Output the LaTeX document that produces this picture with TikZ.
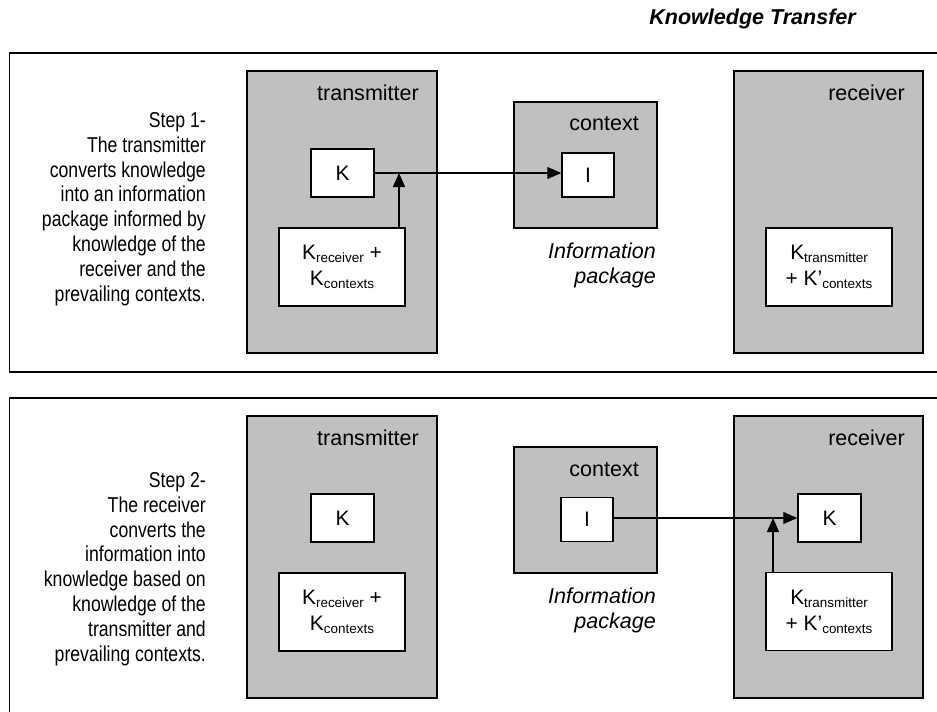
\documentclass[tikz,border=0pt]{standalone}
\usepackage{fontspec}
\setmainfont{Liberation Sans}
\newfontfamily\narrowfont[FakeStretch=0.82]{Liberation Sans}
\usetikzlibrary{arrows.meta}
\definecolor{boxgray}{RGB}{192,192,192}
\newcommand{\ksub}[1]{\raisebox{-3bp}{\fontsize{13.5}{13.5}\selectfont #1}}
\begin{document}
\begin{tikzpicture}[x=1bp,y=-1bp,
  frame/.style={draw=black, line width=1.4bp},
  agent/.style={draw=black, fill=boxgray, line width=1.5bp, rectangle, inner sep=0},
  inbox/.style={draw=black, fill=white, line width=1.5bp, rectangle, inner sep=0, align=center,
    font=\fontsize{21}{26}\selectfont},
  lbl/.style={anchor=base east, inner sep=0, font=\fontsize{21.6}{25}\selectfont},
  pkg/.style={anchor=north east, inner sep=0, align=right, font=\fontsize{21.6}{25}\selectfont\itshape},
  steptext/.style={anchor=north east, inner sep=0, align=right, font=\fontsize{21.6}{25}\selectfont\narrowfont},
  arr/.style={line width=1.3bp, -{Triangle[length=14bp,width=12bp]}}
]
\clip (0,0) rectangle (937,712);
\fill[white] (0,0) rectangle (937,712);

% title
\node[anchor=base east, inner sep=0, font=\fontsize{21.6}{25}\selectfont\bfseries\itshape] (title) at (856,25) {Knowledge Transfer};

% frames
\draw[frame] (950,53) -- (9.5,53) -- (9.5,372) -- (950,372);
\draw[frame] (950,398) -- (9.5,398) -- (9.5,730);

% ===== Step 1 =====
\node[steptext] (step1) at (206,112) {Step 1-\\The transmitter\\converts knowledge\\into an information\\package informed by\\knowledge of the\\receiver and the\\prevailing contexts.};

\node[agent, minimum width=190bp, minimum height=282bp] (tr1) at (342,212) {};
\node[lbl] (tr1l) at (419,100.5) {transmitter};
\node[inbox, minimum width=63bp, minimum height=48bp] (K1) at (342.5,173) {K};
\node[inbox, minimum width=126bp, minimum height=78bp] (KR1) at (342,267) {K\ksub{receiver} +\\K\ksub{contexts}};

\node[agent, minimum width=143bp, minimum height=126bp] (ctx1) at (585.5,165) {};
\node[lbl] (ctx1l) at (639,131) {context};
\node[inbox, minimum width=52bp, minimum height=44bp] (I1) at (588,175) {I};
\node[pkg] (pkg1) at (656,242.3) {Information\\package};

\node[agent, minimum width=189bp, minimum height=282bp] (rc1) at (828.5,212) {};
\node[lbl] (rc1l) at (905,100.5) {receiver};
\node[inbox, minimum width=126bp, minimum height=78bp] (KT1) at (829,267) {K\ksub{transmitter}\\+ K’\ksub{contexts}};

\coordinate (j1) at (399,0);
\draw[arr] (K1.east) -- (K1.east -| I1.west);
\draw[arr] (KR1.north -| j1) -- (K1.east -| j1);

% ===== Step 2 =====
\node[steptext] (step2) at (206,472) {Step 2-\\The receiver\\converts the\\information into\\knowledge based on\\knowledge of the\\transmitter and\\prevailing contexts.};

\node[agent, minimum width=190bp, minimum height=282bp] (tr2) at (342,557) {};
\node[lbl] (tr2l) at (419,445.5) {transmitter};
\node[inbox, minimum width=63bp, minimum height=48bp] (K2) at (342.5,518) {K};
\node[inbox, minimum width=126bp, minimum height=78bp] (KR2) at (342,612) {K\ksub{receiver} +\\K\ksub{contexts}};

\node[agent, minimum width=143bp, minimum height=126bp] (ctx2) at (585.5,510) {};
\node[lbl] (ctx2l) at (639,476) {context};
\node[inbox, minimum width=52bp, minimum height=44bp] (I2) at (587,519.5) {I};
\node[pkg] (pkg2) at (656,587.3) {Information\\package};

\node[agent, minimum width=189bp, minimum height=282bp] (rc2) at (828.5,557) {};
\node[lbl] (rc2l) at (905,445.5) {receiver};
\node[inbox, minimum width=63bp, minimum height=48bp] (K3) at (829.5,518) {K};
\node[inbox, minimum width=126bp, minimum height=78bp] (KT2) at (829,611.5) {K\ksub{transmitter}\\+ K’\ksub{contexts}};

\coordinate (j2) at (773,0);
\draw[arr] (I2.east |- K3.west) -- (K3.west);
\draw[arr] (KT2.north -| j2) -- (K3.west -| j2);
\end{tikzpicture}
\end{document}
